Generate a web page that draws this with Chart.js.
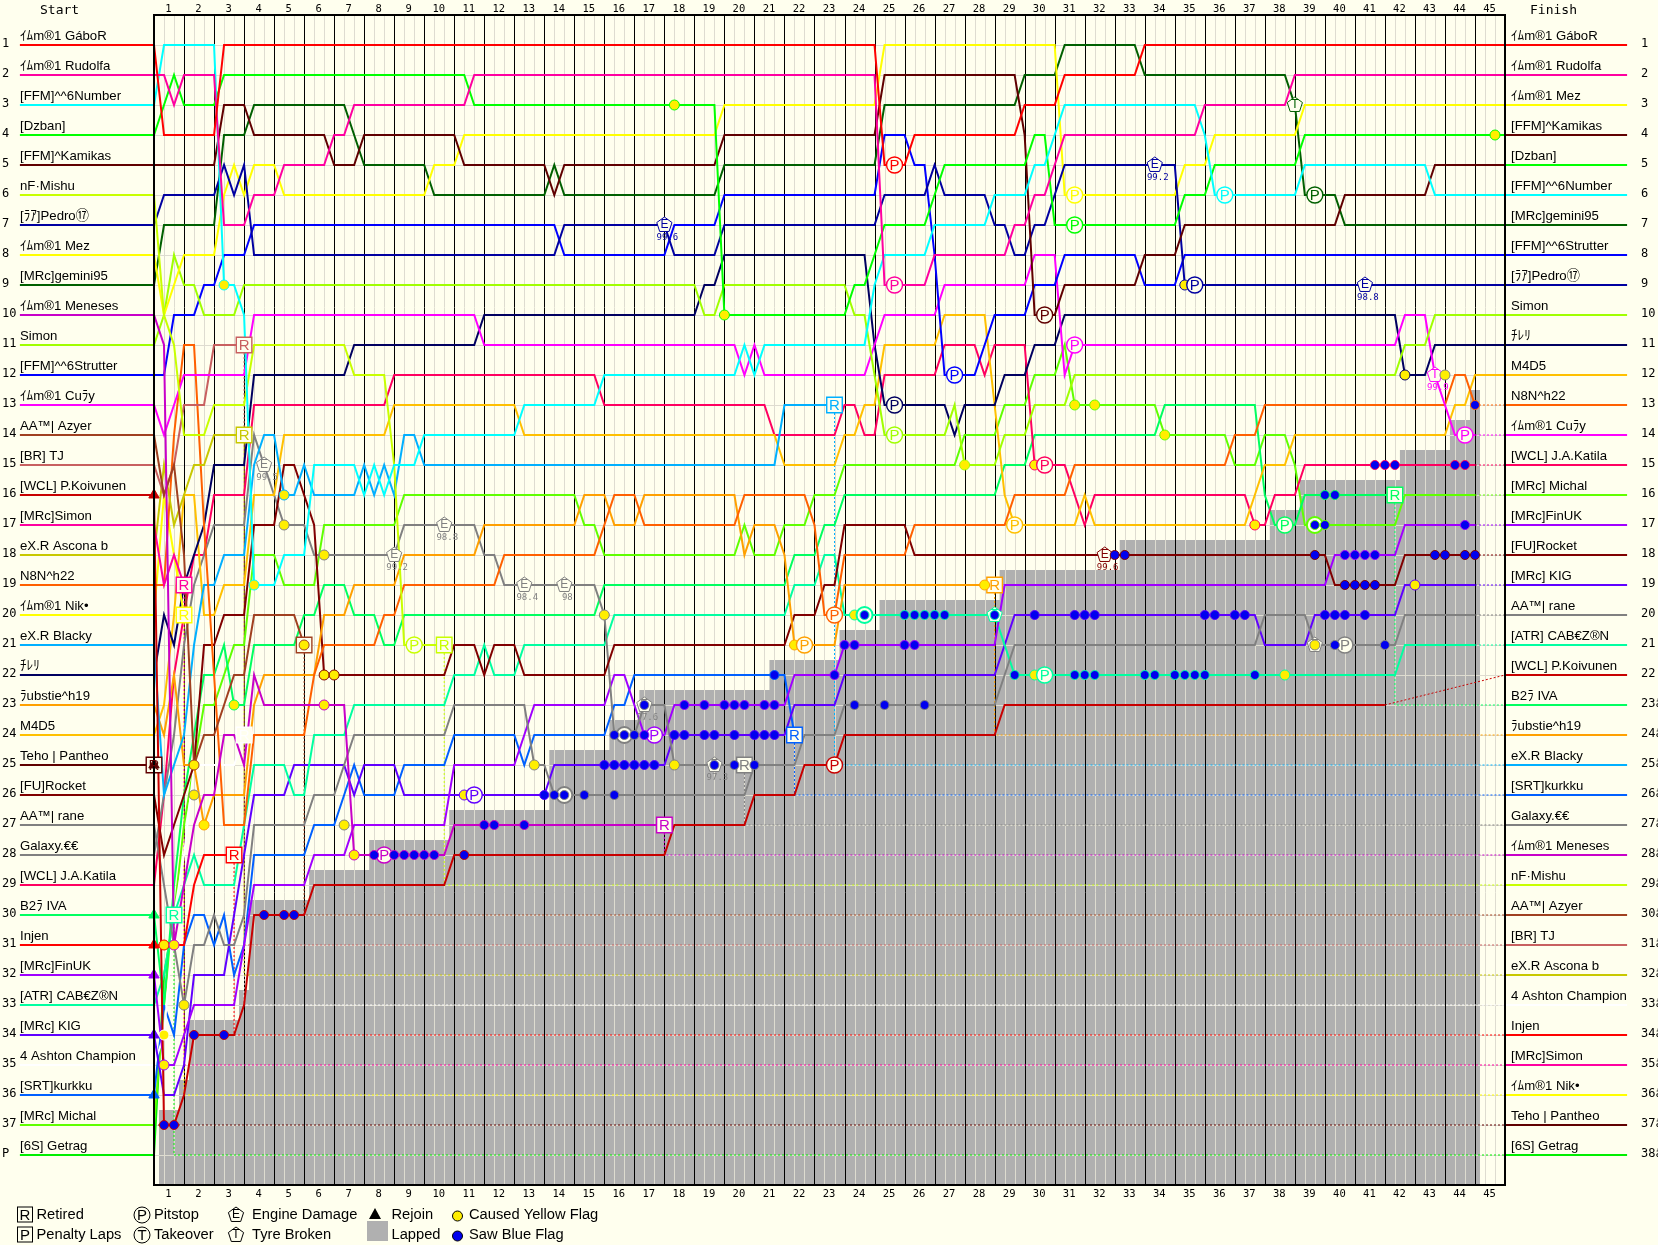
<!DOCTYPE html>
<html>
<head>
<meta charset="utf-8">
<title>Lap chart</title>
<script src="https://cdn.jsdelivr.net/npm/chart.js@4/dist/chart.umd.js"></script>
<style>
html, body { margin: 0; padding: 0; background: #ffffee; overflow: hidden; }
canvas { display: block; }
</style>
</head>
<body>
<canvas id="lap-chart" width="1658" height="1245"></canvas>
<script>
// x values are sectors: three per lap, 135 in all. each pair is [sector, position from there on]
var posGabor = [[0,1],[1,4],[7,1],[73,5],[76,4],[87,3],[91,2],[99,1]];
var posRudolfa = [[0,2],[2,3],[3,2],[7,7],[10,6],[13,5],[18,4],[20,3],[32,2],[73,9],[78,8],[86,7],[88,6],[90,5],[91,4],[105,3],[114,2]];
var posNumber = [[0,3],[1,1],[7,9],[9,10],[10,19],[13,18],[16,15],[21,16],[22,15],[23,16],[24,15],[27,14],[37,13],[45,12],[59,11],[60,12],[61,11],[72,9],[73,8],[78,7],[84,6],[88,5],[90,4],[91,3],[105,4],[106,6],[115,5],[128,6]];
var posDzban = [[0,4],[1,3],[2,2],[3,3],[7,2],[32,3],[57,10],[70,9],[72,8],[73,7],[78,6],[79,5],[88,4],[90,7],[103,6],[106,5],[115,4]];
var posKamikas = [[0,5],[7,3],[10,4],[18,5],[21,4],[31,5],[40,6],[41,5],[57,4],[73,2],[87,4],[88,10],[91,9],[99,8],[103,7],[119,6],[128,5]];
var posMishu = [[0,6],[1,10],[2,11],[3,14],[6,13],[10,11],[20,12],[24,15],[25,21]];
var posPedro = [[0,7],[1,6],[7,5],[8,6],[9,5],[10,8],[41,7],[52,8],[57,7],[73,6],[78,5],[79,6],[84,7],[86,8],[88,7],[90,6],[91,5],[103,9]];
var posMez = [[0,8],[1,10],[2,9],[3,8],[7,6],[8,5],[9,6],[10,5],[13,6],[28,5],[31,4],[57,3],[73,1],[91,6],[103,5],[106,4],[115,3]];
var posGemini = [[0,9],[1,7],[7,4],[10,3],[20,4],[21,5],[28,6],[40,5],[41,6],[57,5],[73,3],[87,2],[91,1],[99,2],[114,3],[115,6],[119,7]];
var posMeneses = [[0,10],[1,11],[2,31],[3,29],[4,27],[5,26],[7,24],[9,25],[10,22],[11,23],[20,28],[30,27]];
var posSimon = [[0,11],[1,10],[2,8],[3,9],[5,10],[9,9],[55,10],[57,9],[70,10],[72,12],[73,14],[80,13],[81,15],[85,14],[88,13],[92,12],[125,11],[128,10]];
var posStrutter = [[0,12],[2,10],[5,9],[7,8],[10,7],[41,8],[52,7],[57,6],[73,4],[76,5],[78,8],[79,12],[83,11],[84,10],[88,9],[91,8],[99,9],[103,8]];
var posCury = [[0,13],[1,14],[2,13],[3,12],[10,10],[33,11],[59,12],[60,11],[61,12],[72,11],[73,10],[79,9],[88,8],[91,12],[92,11],[125,10],[128,12],[129,13],[130,14]];
var posAzyer = [[0,14],[1,16],[2,15],[3,18],[4,25],[5,24],[7,23],[8,22],[10,20],[15,21]];
var posTJ = [[0,15],[1,16],[2,15],[3,13],[6,11]];
var posKoivunen = [[0,16],[1,37],[3,36],[4,34],[9,33],[10,30],[16,29],[30,28],[52,27],[60,26],[65,25],[69,24],[85,23]];
var posMRcSimon = [[0,17],[1,19],[2,18],[3,19]];
var posAscona = [[0,18],[1,15],[2,17],[3,16],[4,15],[6,14]];
var posN8N = [[0,19],[2,14],[3,11],[5,17],[6,22],[7,27],[10,24],[16,22],[17,21],[23,20],[25,19],[35,18],[45,17],[46,16],[49,17],[59,16],[66,17],[67,20],[69,18],[76,17],[86,16],[92,15],[108,14],[111,13],[130,12],[132,13]];
var posNik = [[0,20],[1,16],[2,18],[3,20]];
var posBlacky = [[0,21],[1,26],[2,25],[3,24],[4,21],[5,19],[7,18],[10,15],[11,14],[13,16],[15,15],[16,16],[21,15],[22,16],[23,15],[24,16],[25,14],[27,15],[63,13]];
var posChiReRi = [[0,22],[1,20],[2,21],[3,19],[4,18],[5,17],[6,15],[10,12],[20,11],[33,10],[55,9],[57,8],[72,11],[73,13],[80,14],[81,13],[85,12],[88,11],[91,10],[125,12],[128,11]];
var posRubstie = [[0,23],[1,24],[2,22],[3,25],[5,27],[6,26],[10,23],[11,22],[17,20],[20,19],[25,18],[33,17],[43,16],[46,17],[49,16],[59,18],[60,17],[63,18],[64,21],[69,19]];
var posM4D5 = [[0,24],[1,23],[2,20],[3,16],[5,20],[7,19],[10,16],[13,14],[24,13],[37,14],[63,15],[69,14],[71,13],[73,11],[79,10],[84,13],[85,16],[86,17],[93,16],[94,17],[110,16],[111,15],[114,14],[130,13],[132,12]];
var posPantheo = [[0,25]];
var posRocket = [[0,26],[1,28],[2,27],[3,26],[4,25],[5,21],[7,20],[10,17],[13,15],[15,16],[16,17],[17,22],[30,21],[33,22],[34,21],[37,22],[46,21],[64,20],[67,19],[69,17],[76,18],[118,19],[125,18]];
var posRane = [[0,27],[1,29],[2,31],[3,33],[4,31],[6,30],[7,31],[9,30],[10,27],[16,26],[19,25],[20,24],[30,23],[38,25],[40,26],[60,25],[65,24],[69,23],[85,22],[86,21],[111,20],[116,21],[125,20]];
var posGalaxy = [[0,28],[1,26],[2,24],[3,21],[4,19],[5,18],[6,17],[10,14],[11,15],[12,16],[13,17],[16,18],[25,17],[33,18],[35,19],[45,20],[46,24],[49,23],[52,25]];
var posKatila = [[0,29],[1,26],[2,22],[3,20],[4,18],[6,16],[10,13],[24,12],[45,13],[62,14],[69,13],[71,14],[73,12],[79,11],[83,12],[84,11],[88,15],[92,16],[93,17],[94,16],[110,17],[112,16],[115,15]];
var posB2 = [[0,30],[1,33],[2,29],[3,26],[4,24],[5,22],[7,21],[8,23],[10,21],[15,20],[17,19],[20,20],[23,21],[25,20],[45,19],[64,18],[67,17],[69,16],[85,15],[88,14],[101,13],[111,16],[112,17],[115,16]];
var posInjen = [[0,31],[4,29],[5,28]];
var posFinUK = [[0,32],[1,35],[3,34],[4,33],[9,31],[10,29],[16,28],[20,27],[30,25],[37,24],[38,23],[46,22],[48,23],[49,24],[52,23],[64,22],[69,21],[85,19],[118,18],[125,17]];
var posCabezon = [[0,33],[1,32],[2,30],[3,29],[4,28],[5,29],[9,27],[10,25],[14,26],[16,24],[20,23],[30,22],[33,21],[34,22],[37,21],[46,20],[64,19],[67,18],[69,20],[85,21],[86,22],[125,21]];
var posKIG = [[0,34],[1,36],[3,35],[4,32],[8,30],[9,28],[10,26],[14,25],[20,26],[21,25],[25,26],[40,25],[52,24],[64,23],[69,22],[85,21],[86,20],[111,21],[116,20],[125,19]];
var posAshton = [[0,35],[1,34],[2,30],[3,28],[4,25],[9,24]];
var posKurkku = [[0,36],[1,33],[2,34],[3,31],[4,30],[6,31],[7,30],[8,32],[9,31],[10,28],[16,27],[19,26],[20,25],[21,26],[25,25],[30,24],[37,25],[38,24],[46,23],[48,22],[64,24]];
var posMichal = [[0,37],[1,33],[2,30],[3,27],[4,25],[5,23],[7,22],[8,21],[10,18],[13,19],[17,17],[25,16],[43,17],[45,18],[59,17],[60,18],[63,17],[66,16],[69,15],[81,14],[85,13],[88,12],[91,11],[92,13],[101,14],[108,15],[111,14],[114,15],[115,17],[125,16]];
var posGetrag = [[0,38],[1,32],[2,30]];

var startNames = ['ｲﾑm®1 GáboR','ｲﾑm®1 Rudolfa','[FFM]^^6Number','[Dzban]','[FFM]^Kamikas','nF·Mishu','[ﾗｱ]Pedro⑰','ｲﾑm®1 Mez','[MRc]gemini95','ｲﾑm®1 Meneses','Simon','[FFM]^^6Strutter','ｲﾑm®1 Cuﾗy','AA™| Azyer','[BR] TJ','[WCL] P.Koivunen','[MRc]Simon','eX.R Ascona b','N8N^h22','ｲﾑm®1 Nik•','eX.R Blacky','ﾁﾚﾘ','ﾗubstie^h19','M4D5','Teho | Pantheo','[FU]Rocket','AA™| rane','Galaxy.€€','[WCL] J.A.Katila','B2ﾗ IVA','Injen','[MRc]FinUK','[ATR] CAB€Z®N','[MRc] KIG','4 Ashton Champion','[SRT]kurkku','[MRc] Michal','[6S] Getrag'];
var driverColors = ['#ff0000','#ff00a0','#00ffff','#00ff00','#600000','#c8ff00','#0000a0','#ffff00','#006000','#c800c8','#a0ff00','#0000ff','#ff00ff','#a04020','#c86060','#c80000','#ff00a0','#c8c800','#ff6000','#ffff00','#00b0ff','#000060','#ffa000','#ffc000','#600000','#800000','#808080','#808080','#ff0060','#00ff60','#ff0000','#a000ff','#00ffa0','#6000ff','#ffffff','#0060ff','#60ff00','#00ee00'];
var allPositions = [posGabor,posRudolfa,posNumber,posDzban,posKamikas,posMishu,posPedro,posMez,posGemini,posMeneses,posSimon,posStrutter,posCury,posAzyer,posTJ,posKoivunen,posMRcSimon,posAscona,posN8N,posNik,posBlacky,posChiReRi,posRubstie,posM4D5,posPantheo,posRocket,posRane,posGalaxy,posKatila,posB2,posInjen,posFinUK,posCabezon,posKIG,posAshton,posKurkku,posMichal,posGetrag];
// index into the arrays above, in finishing order
var finishOrder = [0,1,7,4,3,2,8,11,6,10,21,23,18,12,28,36,31,25,33,26,32,15,29,22,20,35,27,9,5,13,14,17,34,30,16,19,24,37];
// last sector with a solid line, drivers not listed run to the flag
var stopSectors = {5:29,9:51,13:15,14:9,15:123,16:3,17:9,18:132,19:3,20:68,22:84,24:0,25:132,26:132,27:59,28:132,29:124,30:8,31:132,32:132,33:132,34:9,35:64,36:132,12:132,37:2};
var retiredDrivers = [5,9,13,14,16,17,19,20,22,24,27,29,30,34,35,37];

var lapLabels = [];
for (var n = 1; n <= 45; n++) lapLabels.push(String(n));
var startRowLabels = ['1','2','3','4','5','6','7','8','9','10','11','12','13','14','15','16','17','18','19','20','21','22','23','24','25','26','27','28','29','30','31','32','33','34','35','36','37','P'];
var finishRowLabels = ['1','2','3','4','5','6','7','8','9','10','11','12','13','14','15','16','17','18','19','20','21','22','23â','24â','25â','26â','27â','28â','29â','30â','31â','32â','33â','34â','35â','36â','37â','38â'];

// lapped area: [from sector, position of its top edge]
var lappedSteps = [[0.5,36.5],[2.5,35.5],[3.5,33.5],[8.5,32.5],[9.5,29.5],[15.5,28.5],[21.5,27.5],[29.5,26.5],[39.5,24.5],[45.5,23.5],[48.5,22.5],[61.5,21.5],[68.5,20.5],[72.5,19.5],[84.5,18.5],[96.5,17.5],[111.5,16.5],[114.5,15.5],[124.5,14.5],[129.5,13.5],[131.5,12.5],[132.5,39]];

var blueFlags = [[1,37],[2,37],[4,34],[7,34],[11,30],[13,30],[14,30],[22,28],[24,28],[25,28],[26,28],[27,28],[28,28],[31,28],[33,27],[34,27],[37,27],[39,26],[40,26],[41,26],[43,26],[46,26],[45,25],[46,25],[47,25],[48,25],[49,25],[50,25],[56,25],[58,25],[60,25],[46,24],[47,24],[48,24],[49,24],[52,24],[53,24],[55,24],[56,24],[58,24],[60,24],[61,24],[62,24],[49,23],[53,23],[55,23],[57,23],[58,23],[59,23],[61,23],[62,23],[62,22],[68,22],[69,21],[70,21],[75,21],[76,21],[71,20],[75,20],[76,20],[77,20],[78,20],[79,20],[84,20],[70,23],[73,23],[77,23],[86,22],[92,22],[93,22],[94,22],[88,20],[92,20],[93,20],[94,20],[96,18],[97,18],[116,18],[119,18],[120,18],[121,18],[122,18],[119,19],[120,19],[121,19],[122,19],[128,18],[129,18],[131,18],[132,18],[99,22],[100,22],[102,22],[103,22],[104,22],[105,22],[110,22],[105,20],[106,20],[108,20],[109,20],[117,20],[118,20],[119,20],[121,20],[118,21],[123,21],[116,17],[117,17],[131,17],[117,16],[118,16],[122,15],[123,15],[124,15],[130,15],[131,15],[132,13]];
var yellowFlags = [[7,9],[52,3],[57,10],[92,13],[94,13],[10,19],[13,16],[13,17],[17,18],[17,22],[18,22],[17,23],[8,23],[15,21],[4,25],[4,26],[31,26],[38,25],[5,27],[19,27],[20,28],[1,31],[2,31],[3,33],[1,34],[1,35],[45,20],[52,25],[64,21],[70,20],[81,15],[88,15],[83,19],[88,22],[103,9],[125,12],[129,12],[134,4],[101,14],[110,17],[113,22],[116,21],[126,19]];
var pitMarks = [[26,21],[32,26],[23,28],[74,5],[74,9],[89,10],[92,6],[92,7],[92,11],[80,12],[74,13],[74,14],[65,21],[68,20],[86,17],[89,15],[89,22],[50,24],[68,25],[107,6],[116,6],[104,9],[113,17],[131,14],[119,21]];
var ringMarks = [[47,24],[41,26],[71,20],[116,17]];
var retiredMarks = [[0,25],[2,30],[3,19],[3,20],[8,28],[9,11],[9,14],[9,24],[15,21],[29,21],[51,27],[59,25],[64,24],[68,13],[84,19],[124,16]];
var rejoinMarks = [[0,16],[0,30],[0,31],[0,32],[0,34],[0,36],[0,25]];
var engineMarks = [[11,15,'99.5'],[24,18,'99.2'],[29,17,'98.8'],[37,19,'98.4'],[41,19,'98'],[49,23,'97.6'],[56,25,'97.3'],[51,7,'99.6'],[100,5,'99.2'],[121,9,'98.8'],[95,18,'99.6']];
var tyreMarks = [[114,3,''],[128,12,'99.9'],[84,20,''],[116,21,'']];

var BG = '#ffffee';
var GREY = '#b0b0b0';
var NAME_FONT = '13.2px "Liberation Sans", "Noto Sans CJK JP", sans-serif';
var MONO_FONT = '13px "DejaVu Sans Mono", monospace';
var ROW_FONT = '12px "DejaVu Sans Mono", monospace';
var LAP_FONT = '10.5px "DejaVu Sans Mono", monospace';

function driverAt(s, r) {
	for (var d = 0; d < allPositions.length; d++) {
		var list = allPositions[d];
		var stop = stopSectors[d] === undefined ? 135 : stopSectors[d];
		if (s > stop) continue;
		var row = list[0][1];
		for (var i = 0; i < list.length; i++) {
			if (list[i][0] <= s) row = list[i][1];
		}
		if (row === r) return d;
	}
	return -1;
}

function colourAt(m) {
	var d = driverAt(m[0], m[1]);
	return d < 0 ? '#808080' : driverColors[d];
}

function toPoints(list) {
	return list.map(function(m) { return { x: m[0], y: m[1] }; });
}

var datasets = [];

datasets.push({
	label: 'Lapped',
	data: toPoints(lappedSteps),
	stepped: true,
	borderWidth: 0,
	backgroundColor: GREY,
	fill: { value: 39 },
	pointRadius: 0,
	order: 100
});
var LAPPED_META = 0;

allPositions.forEach(function(list, d) {
	var stop = stopSectors[d] === undefined ? 135 : stopSectors[d];
	var first = list[0][1];
	var last = list[list.length - 1][1];
	var pts = [{ x: -13.4, y: first }, { x: 0, y: first }];
	for (var i = 1; i < list.length; i++) {
		pts.push({ x: list[i][0] - 1, y: list[i - 1][1] });
		pts.push({ x: list[i][0], y: list[i][1] });
	}
	pts.push({ x: stop, y: last });
	datasets.push({ data: pts, borderColor: driverColors[d], borderWidth: 2, pointRadius: 0, fill: false, clip: false, order: 40 });

	var finishRow = finishOrder.indexOf(d) + 1;
	if (stop < 135) {
		var tail = [{ x: stop, y: last }];
		if (retiredDrivers.indexOf(d) >= 0) tail.push({ x: stop, y: finishRow });
		tail.push({ x: 135, y: finishRow });
		datasets.push({ data: tail, borderColor: driverColors[d], borderWidth: 1, borderDash: [2, 2], pointRadius: 0, fill: false, clip: false, order: 50 });
	}
	datasets.push({ data: [{ x: 135, y: finishRow }, { x: 147.2, y: finishRow }], borderColor: driverColors[d], borderWidth: 2, pointRadius: 0, fill: false, clip: false, order: 41 });
});

function markerSet(list, style, radius, fill, border, width, order) {
	return {
		data: toPoints(list),
		showLine: false,
		clip: false,
		pointStyle: style,
		pointRadius: radius,
		pointBackgroundColor: fill || list.map(colourAt),
		pointBorderColor: border || list.map(colourAt),
		pointBorderWidth: width,
		order: order
	};
}

var SHAPES_ORDER = 7;
datasets.push({ label: 'shapes', data: [], order: SHAPES_ORDER, pointRadius: 0 });
datasets.push(markerSet(retiredMarks, 'rect', 11, BG, null, 1.4, 6));
datasets.push(markerSet(yellowFlags, 'circle', 5, '#ffee00', null, 1, 5));
datasets.push(markerSet(pitMarks, 'circle', 8, BG, null, 1.4, 4));
datasets.push(markerSet(ringMarks, 'circle', 8, BG, null, 2, 4));
datasets.push(markerSet(blueFlags, 'circle', 4.5, '#0000ee', null, 1, 3));
datasets.push(markerSet(rejoinMarks, 'triangle', 6, null, null, 1, 2));

function drawPentagon(ctx, x, y, r, colour, fill) {
	ctx.beginPath();
	for (var i = 0; i < 5; i++) {
		var a = -Math.PI / 2 + i * 2 * Math.PI / 5;
		var px = x + r * Math.cos(a);
		var py = y + r * Math.sin(a);
		if (i === 0) ctx.moveTo(px, py); else ctx.lineTo(px, py);
	}
	ctx.closePath();
	ctx.fillStyle = fill;
	ctx.fill();
	ctx.strokeStyle = colour;
	ctx.lineWidth = 1;
	ctx.stroke();
}

function label(ctx, text, x, y, font, colour, align) {
	ctx.font = font;
	ctx.fillStyle = colour;
	ctx.textAlign = align || 'left';
	ctx.textBaseline = 'middle';
	ctx.fillText(text, x, y);
}

function hasYellow(m) {
	return yellowFlags.some(function(f) { return f[0] === m[0] && f[1] === m[1]; });
}

var chartPlugin = {
	id: 'lapChartDecor',
	afterDatasetDraw: function(chart, args) {
		var ctx = chart.ctx, xs = chart.scales.x, ys = chart.scales.y, a = chart.chartArea;
		ctx.save();
		if (args.index === LAPPED_META) {
			// grid has to sit on top of the lapped area but under the lines
			ctx.lineWidth = 1;
			ctx.strokeStyle = '#dedcd0';
			var s, r, p;
			for (s = 1; s < 135; s++) {
				if (s % 3 === 0) continue;
				p = Math.round(xs.getPixelForValue(s)) + 0.5;
				ctx.beginPath(); ctx.moveTo(p, a.top); ctx.lineTo(p, a.bottom); ctx.stroke();
			}
			for (r = 1; r <= 38; r++) {
				p = Math.round(ys.getPixelForValue(r)) + 0.5;
				ctx.beginPath(); ctx.moveTo(a.left, p); ctx.lineTo(a.right, p); ctx.stroke();
			}
			ctx.strokeStyle = '#000000';
			for (s = 3; s < 135; s += 3) {
				p = Math.round(xs.getPixelForValue(s)) + 0.5;
				ctx.beginPath(); ctx.moveTo(p, a.top); ctx.lineTo(p, a.bottom); ctx.stroke();
			}
		}
		if (chart.data.datasets[args.index].label === 'shapes') {
			engineMarks.forEach(function(m) {
				var c = colourAt(m), x = xs.getPixelForValue(m[0]), y = ys.getPixelForValue(m[1]);
				drawPentagon(ctx, x, y, 8, c, BG);
				label(ctx, 'E', x, y, '12px "Liberation Sans"', c, 'center');
				label(ctx, m[2], x + 3, y + 13, '9px "DejaVu Sans Mono"', c, 'center');
			});
			tyreMarks.forEach(function(m) {
				var c = colourAt(m), x = xs.getPixelForValue(m[0]), y = ys.getPixelForValue(m[1]);
				drawPentagon(ctx, x, y, 8, c, BG);
				label(ctx, 'T', x, y, '12px "Liberation Sans"', c, 'center');
				if (m[2]) label(ctx, m[2], x + 3, y + 13, '9px "DejaVu Sans Mono"', c, 'center');
			});
		}
		ctx.restore();
	},
	afterDatasetsDraw: function(chart) {
		var ctx = chart.ctx, xs = chart.scales.x, ys = chart.scales.y, a = chart.chartArea;
		ctx.save();
		ctx.strokeStyle = '#000000';
		ctx.lineWidth = 2;
		ctx.strokeRect(a.left, a.top, a.right - a.left, a.bottom - a.top);

		pitMarks.forEach(function(m) {
			label(ctx, 'P', xs.getPixelForValue(m[0]), ys.getPixelForValue(m[1]) + 0.5, '15px "Liberation Sans"', colourAt(m), 'center');
		});
		retiredMarks.forEach(function(m) {
			if (hasYellow(m)) return;
			label(ctx, 'R', xs.getPixelForValue(m[0]), ys.getPixelForValue(m[1]) + 0.5, '15px "Liberation Sans"', colourAt(m), 'center');
		});

		lapLabels.forEach(function(t, i) {
			var x = xs.getPixelForValue(i * 3 + 1.45);
			label(ctx, t, x, 9, LAP_FONT, '#000000', 'center');
			label(ctx, t, x, 1194, LAP_FONT, '#000000', 'center');
		});
		label(ctx, 'Start', 40, 11, MONO_FONT, '#000000');
		label(ctx, 'Finish', 1530, 11, MONO_FONT, '#000000');

		startRowLabels.forEach(function(t, i) {
			var y = ys.getPixelForValue(i + 1);
			label(ctx, t, 2, y - 1, ROW_FONT, '#000000');
			label(ctx, startNames[i], 20, y - 8.5, NAME_FONT, '#000000');
		});
		finishRowLabels.forEach(function(t, i) {
			var y = ys.getPixelForValue(i + 1);
			label(ctx, t, 1641, y - 1, ROW_FONT, '#000000');
			label(ctx, startNames[finishOrder[i]], 1511, y - 8.5, NAME_FONT, '#000000');
		});

		// legend
		var F = '14.7px "Liberation Sans"', R1 = 1215, R2 = 1235;
		ctx.lineWidth = 1;
		ctx.strokeStyle = '#000000';
		ctx.strokeRect(17.5, R1 - 8, 15, 15);
		label(ctx, 'R', 25, R1 + 0.5, '15px "Liberation Sans"', '#000000', 'center');
		ctx.strokeRect(17.5, R2 - 8, 15, 15);
		label(ctx, 'P', 25, R2 + 0.5, '15px "Liberation Sans"', '#000000', 'center');
		label(ctx, 'Retired', 36.5, R1, F, '#000000');
		label(ctx, 'Penalty Laps', 36.5, R2, F, '#000000');
		ctx.beginPath(); ctx.arc(142, R1, 8, 0, 2 * Math.PI); ctx.stroke();
		label(ctx, 'P', 142, R1 + 0.5, '15px "Liberation Sans"', '#000000', 'center');
		ctx.beginPath(); ctx.arc(142, R2, 8, 0, 2 * Math.PI); ctx.stroke();
		label(ctx, 'T', 142, R2 + 0.5, '15px "Liberation Sans"', '#000000', 'center');
		label(ctx, 'Pitstop', 154, R1, F, '#000000');
		label(ctx, 'Takeover', 154, R2, F, '#000000');
		drawPentagon(ctx, 236, R1, 8, '#000000', BG);
		label(ctx, 'E', 236, R1, '12px "Liberation Sans"', '#000000', 'center');
		drawPentagon(ctx, 236, R2, 8, '#000000', BG);
		label(ctx, 'T', 236, R2, '12px "Liberation Sans"', '#000000', 'center');
		label(ctx, 'Engine Damage', 252, R1, F, '#000000');
		label(ctx, 'Tyre Broken', 252, R2, F, '#000000');
		ctx.fillStyle = '#000000';
		ctx.beginPath(); ctx.moveTo(375, R1 - 7); ctx.lineTo(381, R1 + 4); ctx.lineTo(369, R1 + 4); ctx.closePath(); ctx.fill();
		ctx.fillStyle = GREY;
		ctx.fillRect(367, 1221, 21, 20);
		label(ctx, 'Rejoin', 391.5, R1, F, '#000000');
		label(ctx, 'Lapped', 391.5, R2, F, '#000000');
		ctx.fillStyle = '#ffee00'; ctx.strokeStyle = '#000000';
		ctx.beginPath(); ctx.arc(457.5, R1 + 1, 5, 0, 2 * Math.PI); ctx.fill(); ctx.stroke();
		ctx.fillStyle = '#0000ee';
		ctx.beginPath(); ctx.arc(457.5, R2 + 1, 5, 0, 2 * Math.PI); ctx.fill(); ctx.stroke();
		label(ctx, 'Caused Yellow Flag', 469, R1, F, '#000000');
		label(ctx, 'Saw Blue Flag', 469, R2, F, '#000000');
		ctx.restore();
	}
};

new Chart(document.getElementById('lap-chart'), {
	type: 'line',
	data: { datasets: datasets },
	options: {
		responsive: false,
		devicePixelRatio: 1,
		animation: false,
		parsing: false,
		normalized: true,
		events: [],
		layout: { padding: { left: 154, right: 153, top: 15, bottom: 60 } },
		elements: { line: { tension: 0 } },
		scales: {
			x: { type: 'linear', display: false, min: 0, max: 135 },
			y: { type: 'linear', display: false, min: 0, max: 39, reverse: true }
		},
		plugins: { legend: { display: false }, tooltip: { enabled: false } }
	},
	plugins: [chartPlugin]
});
</script>
</body>
</html>
